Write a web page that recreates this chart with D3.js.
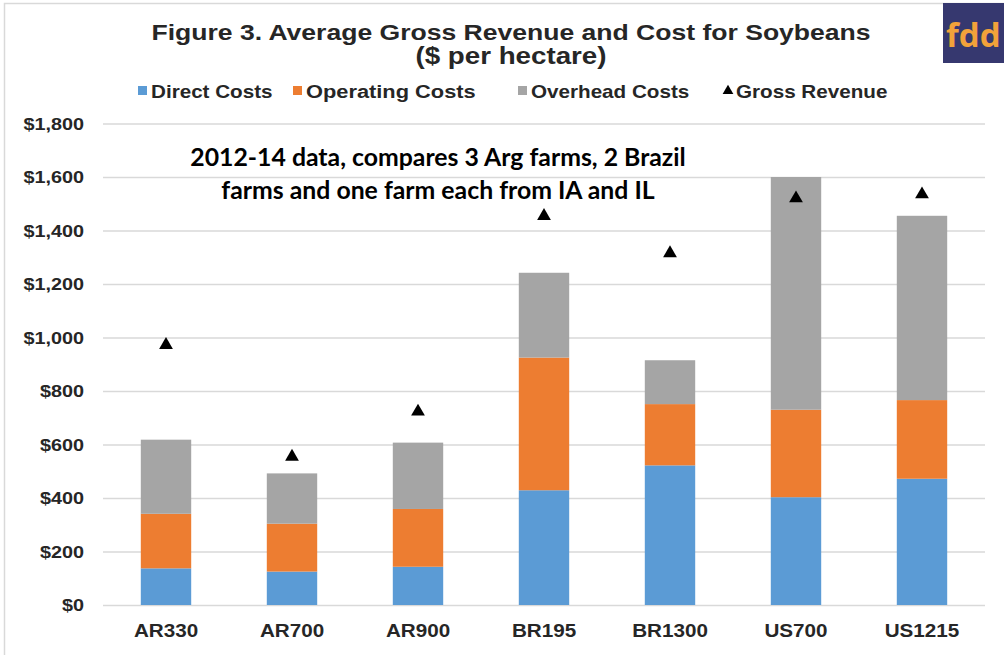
<!DOCTYPE html>
<html>
<head>
<meta charset="utf-8">
<script src="https://cdn.jsdelivr.net/npm/d3@7"></script>
<style>
  body { margin: 0; background: #fff; }
  svg text { font-family: "Liberation Sans", Arial, sans-serif; font-weight: bold; fill: #262626; }
  svg text.note { font-family: Lato, "Open Sans", sans-serif; fill: #000; }
  svg text.logo { font-family: "Open Sans", sans-serif; fill: #f2a23a; }
</style>
</head>
<body>
<svg id="chart" width="1004" height="655"></svg>
<script>
  // farms
  var farms = ["AR330", "AR700", "AR900", "BR195", "BR1300", "US700", "US1215"];
  // $ per hectare
  var directCosts = [137, 125, 143, 429, 522, 403, 472];
  var operatingCosts = [204, 179, 216, 496, 229, 327, 294];
  var overheadCosts = [277, 188, 248, 317, 164, 870, 689];
  var grossRevenue = [972, 554, 723, 1454, 1315, 1520, 1535];

  var seriesNames = ["Direct Costs", "Operating Costs", "Overhead Costs"];
  var seriesColors = ["#5b9bd5", "#ed7d31", "#a5a5a5"];
  var yTicks = [0, 200, 400, 600, 800, 1000, 1200, 1400, 1600, 1800];

  var noteLines = ["2012-14 data, compares 3 Arg farms, 2 Brazil",
                   "farms and one farm each from IA and IL"];

  var svg = d3.select("#chart");
  var sx = 1.18; // the picture is stretched sideways a little

  function put(sel, x, y, size) {
    return sel.attr("font-size", size)
      .attr("transform", "translate(" + x + "," + y + ") scale(" + sx + ",1)");
  }

  // frame
  svg.append("rect")
    .attr("x", 4.5).attr("y", 3.5)
    .attr("width", 1100).attr("height", 700)
    .attr("fill", "#fff")
    .attr("stroke", "#d9d9d9")
    .attr("stroke-width", 1.5);

  var x = d3.scaleBand()
    .domain(farms)
    .range([103, 985])
    .paddingInner(0.6)
    .paddingOuter(0.3);

  var y = d3.scaleLinear()
    .domain([0, 1800])
    .range([605, 123.5]);

  // gridlines + tick labels
  var yAxis = d3.axisLeft(y)
    .tickValues(yTicks)
    .tickSize(-(985 - 103))
    .tickFormat(function (d) { return "$" + d3.format(",")(d); });

  var ga = svg.append("g")
    .attr("transform", "translate(103,0)")
    .call(yAxis);
  ga.select(".domain").remove();
  ga.selectAll(".tick line").attr("stroke", "#d9d9d9").attr("stroke-width", 1.3);
  ga.selectAll(".tick text").each(function () {
    var t = d3.select(this);
    t.attr("x", null).attr("dy", null).attr("fill", null)
      .attr("text-anchor", "end").attr("dominant-baseline", "central");
    put(t, -19, 0, 16.8);
  });

  // stacked bars
  var rows = farms.map(function (f, i) {
    return { farm: f, direct: directCosts[i], operating: operatingCosts[i], overhead: overheadCosts[i] };
  });
  var stack = d3.stack().keys(["direct", "operating", "overhead"]);
  var layers = stack(rows);

  svg.append("g").selectAll("g")
    .data(layers)
    .join("g")
      .attr("fill", function (d, i) { return seriesColors[i]; })
    .selectAll("rect")
    .data(function (d) { return d; })
    .join("rect")
      .attr("x", function (d) { return x(d.data.farm); })
      .attr("width", x.bandwidth())
      .attr("y", function (d) { return y(d[1]); })
      .attr("height", function (d) { return y(d[0]) - y(d[1]); });

  // gross revenue markers
  var tri = d3.symbol().type(d3.symbolTriangle).size(82);
  svg.append("g").selectAll("path")
    .data(grossRevenue)
    .join("path")
      .attr("d", tri)
      .attr("fill", "#000")
      .attr("transform", function (d, i) {
        return "translate(" + (x(farms[i]) + x.bandwidth() / 2) + "," + y(d) + ")";
      });

  // category labels
  svg.append("g").selectAll("text")
    .data(farms)
    .join("text")
      .attr("text-anchor", "middle")
      .text(function (d) { return d; })
      .each(function (d) {
        put(d3.select(this), x(d) + x.bandwidth() / 2, 637, 17.5);
      });

  // title
  put(svg.append("text").attr("text-anchor", "middle")
    .text("Figure 3. Average Gross Revenue and Cost for Soybeans"), 511, 40, 22.5);
  put(svg.append("text").attr("text-anchor", "middle")
    .text("($ per hectare)"), 511, 64, 23.5);

  // legend
  var legendX = [138, 293, 518, 723];
  var lg = svg.append("g");
  seriesNames.forEach(function (name, i) {
    lg.append("rect")
      .attr("x", legendX[i]).attr("y", 86)
      .attr("width", 9).attr("height", 9)
      .attr("fill", seriesColors[i]);
    put(lg.append("text").text(name), legendX[i] + 13, 98, i === 1 ? 18.5 : 17.5);
  });
  lg.append("path")
    .attr("d", d3.symbol().type(d3.symbolTriangle).size(50))
    .attr("transform", "translate(" + (legendX[3] + 5) + ",91)")
    .attr("fill", "#000");
  put(lg.append("text").text("Gross Revenue"), legendX[3] + 13, 98, 17.5);

  // note
  noteLines.forEach(function (line, i) {
    svg.append("text")
      .attr("class", "note")
      .attr("text-anchor", "middle")
      .attr("x", 438).attr("y", 166 + i * 33)
      .attr("font-size", 24.8)
      .text(line);
  });

  // logo
  svg.append("rect")
    .attr("x", 943).attr("y", 3)
    .attr("width", 61).attr("height", 60)
    .attr("fill", "#36386f");
  svg.append("text")
    .attr("class", "logo")
    .attr("x", 946).attr("y", 47)
    .attr("font-size", 33)
    .text("fdd");
</script>
</body>
</html>
